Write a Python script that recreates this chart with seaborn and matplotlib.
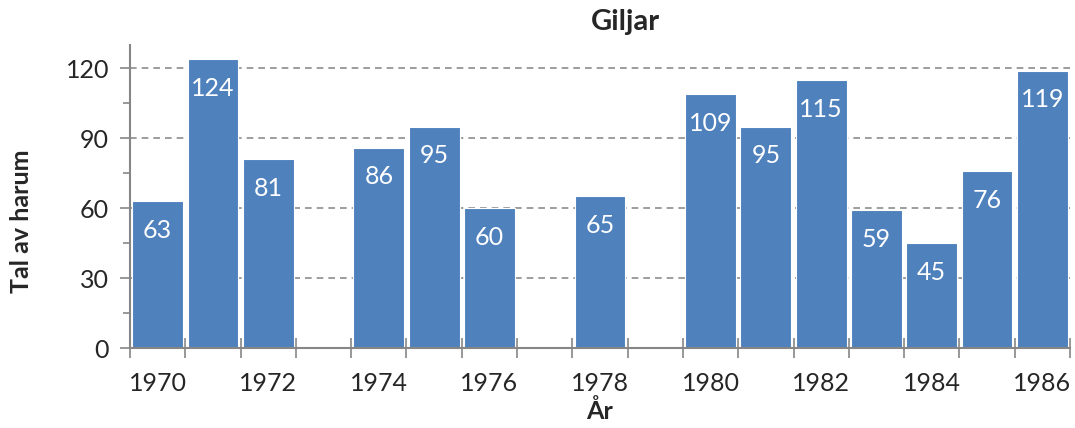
import numpy as np
import pandas as pd
import matplotlib
matplotlib.use("Agg")
import matplotlib.pyplot as plt
import seaborn as sns

# data
years = [1970, 1971, 1972, 1974, 1975, 1976, 1978, 1980, 1981, 1982, 1983, 1984, 1985, 1986]
counts = [63, 124, 81, 86, 95, 60, 65, 109, 95, 115, 59, 45, 76, 119]
all_years = [str(y) for y in range(1970, 1987)]
tick_labels = [y if i % 2 == 0 else "" for i, y in enumerate(all_years)]

sns.set_style("white")
plt.rcParams["font.family"] = ["Lato", "DejaVu Sans"]
plt.rcParams["font.size"] = 18

grey = "#868686"
blue = "#4F81BD"

df = pd.DataFrame({"year": [str(y) for y in years], "count": counts})

fig = plt.figure(figsize=(10.75, 4.28), dpi=100)
ax = fig.add_axes([130 / 1075, 80 / 428, 940 / 1075, 303 / 428])

sns.barplot(data=df, x="year", y="count", order=all_years, color=blue,
            saturation=1, width=0.92, edgecolor="white", linewidth=0.8, ax=ax)

# value labels just inside the top of each bar
for p in ax.patches:
    h = p.get_height()
    if np.isnan(h) or h == 0:
        continue
    ax.annotate(f"{h:.0f}", (p.get_x() + p.get_width() / 2, h),
                xytext=(0, -21), textcoords="offset points",
                ha="center", va="center", color="white", fontsize=18)

ax.set_ylim(0, 130)
ax.set_xlim(-0.5, len(all_years) - 0.5)
ax.set_yticks([0, 30, 60, 90, 120])
ax.set_yticks([15, 45, 75, 105], minor=True)
ax.set_xticks(range(len(all_years)))
ax.set_xticklabels(tick_labels)
ax.set_xticks(np.arange(-0.5, len(all_years), 1.0), minor=True)

for y in [30, 60, 90, 120]:
    ax.axhline(y, color="#8c8c8c", linestyle=(0, (4, 3)), linewidth=1.2, zorder=0)

ax.tick_params(which="both", bottom=True, left=True)
ax.tick_params(axis="x", which="major", length=0, pad=17, labelsize=18)
ax.tick_params(axis="x", which="minor", direction="inout", length=14, width=1.2, color=grey)
ax.tick_params(axis="y", which="major", direction="out", length=7, width=1.2, color=grey,
               labelsize=18, pad=8)
ax.tick_params(axis="y", which="minor", direction="out", length=5, width=1.2, color=grey)

for s in ["top", "right"]:
    ax.spines[s].set_visible(False)
for s in ["left", "bottom"]:
    ax.spines[s].set_color(grey)
    ax.spines[s].set_linewidth(1.5)

ax.set_xlabel("")
ax.set_ylabel("")
fig.text(625 / 1075, 1 - 22 / 428, "Giljar", ha="center", va="center",
         fontsize=21, fontweight="bold")
fig.text(600 / 1075, 1 - 411 / 428, "År", ha="center", va="center",
         fontsize=18, fontweight="bold")
fig.text(22 / 1075, 1 - 221 / 428, "Tal av harum", ha="center", va="center",
         rotation=90, fontsize=18, fontweight="bold")

plt.savefig("out.png", dpi=100)
plt.close()
